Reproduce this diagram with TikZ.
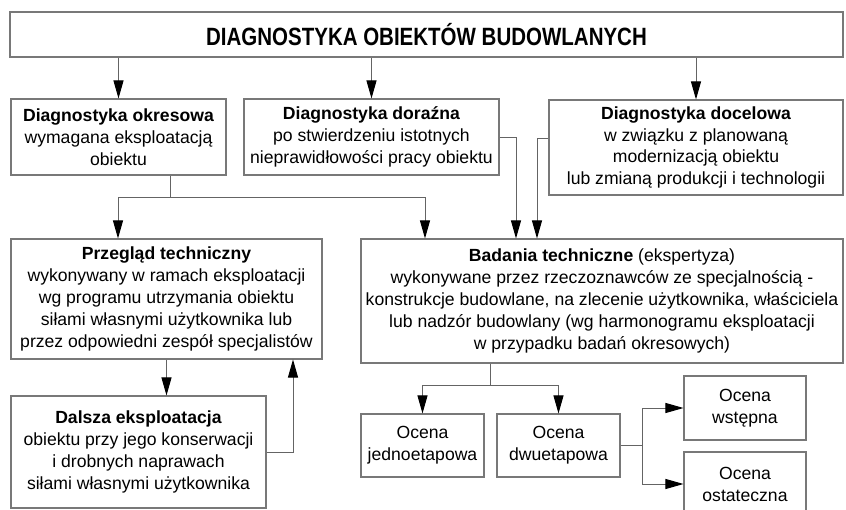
\documentclass[tikz,border=0pt]{standalone}
\usepackage{fontspec}
\usepackage{graphicx}
\setmainfont{Liberation Sans}
\usetikzlibrary{arrows.meta}
\definecolor{boxgray}{RGB}{120,120,120}
\definecolor{linegray}{RGB}{100,100,100}
\begin{document}
\begin{tikzpicture}[x=1pt,y=-1pt,
  box/.style={draw=boxgray,line width=1.1pt,inner sep=0pt,align=center,
    font=\fontsize{17.6}{21.9}\selectfont},
  wire/.style={draw=linegray,line width=1pt},
  conn/.style={draw=linegray,line width=1pt,-{Triangle[length=18pt,width=10pt,black]}}]
\fill[white] (0,0) rectangle (846,509);
\useasboundingbox (0,0) rectangle (846,509);

\node[box,minimum width=833pt,minimum height=45pt] (top) at (426.5,34.5)
  {\scalebox{0.82}[1]{\fontsize{25}{30}\selectfont\bfseries DIAGNOSTYKA OBIEKTÓW BUDOWLANYCH}};

\node[box,minimum width=215pt,minimum height=76pt] (okr) at (118.5,137)
  {\textbf{Diagnostyka okresowa}\\wymagana eksploatacją\\obiektu};
\node[box,minimum width=255pt,minimum height=76pt] (dor) at (371.5,137)
  {\textbf{Diagnostyka doraźna}\\po stwierdzeniu istotnych\\nieprawidłowości pracy obiektu};
\node[box,minimum width=294pt,minimum height=95pt] (doc) at (696,147.5)
  {\textbf{Diagnostyka docelowa}\\w związku z planowaną\\modernizacją obiektu\\lub zmianą produkcji i technologii};

\node[box,minimum width=311pt,minimum height=120pt] (prz) at (166.5,299)
  {\textbf{Przegląd techniczny}\\wykonywany w ramach eksploatacji\\wg programu utrzymania obiektu\\siłami własnymi użytkownika lub\\przez odpowiedni zespół specjalistów};
\node[box,minimum width=482pt,minimum height=124pt] (bad) at (602,301)
  {\textbf{Badania techniczne} (ekspertyza)\\wykonywane przez rzeczoznawców ze specjalnością -\\konstrukcje budowlane, na zlecenie użytkownika, właściciela\\lub nadzór budowlany (wg harmonogramu eksploatacji\\w przypadku badań okresowych)};

\node[box,minimum width=255pt,minimum height=112pt] (dal) at (138.5,452)
  {\textbf{Dalsza eksploatacja}\\obiektu przy jego konserwacji\\i drobnych naprawach\\siłami własnymi użytkownika};

\node[box,minimum width=123pt,minimum height=63pt] (jed) at (422.5,445.5) {Ocena\\jednoetapowa};
\node[box,minimum width=123pt,minimum height=63pt] (dwu) at (558.5,445.5) {Ocena\\dwuetapowa};
\node[box,minimum width=122pt,minimum height=64pt] (wst) at (745,408) {Ocena\\wstępna};
\node[box,minimum width=122pt,minimum height=64pt] (ost) at (745,484) {Ocena\\ostateczna};

% connectors
\draw[conn] (top.south -| okr.north) -- (okr.north);
\draw[conn] (top.south -| dor.north) -- (dor.north);
\draw[conn] (top.south -| doc.north) -- (doc.north);

\coordinate (j1) at (170,197);
\coordinate (a1) at (118,197);
\coordinate (a2) at (425,197);
\draw[wire] (okr.south -| j1) -- (j1);
\draw[wire] (a1) -- (a2);
\draw[conn] (a1) -- (prz.north -| a1);
\draw[conn] (a2) -- (bad.north -| a2);

\coordinate (d1) at (516,137);
\coordinate (d2) at (537,138);
\draw[conn] (dor.east |- d1) -- (d1) -- (bad.north -| d1);
\draw[conn] (doc.west |- d2) -- (d2) -- (bad.north -| d2);

\draw[conn] (prz.south) -- (prz.south |- dal.north);
\coordinate (e1) at (293,452);
\draw[conn] (dal.east |- e1) -- (e1) -- (prz.south -| e1);

\coordinate (b1) at (490,385);
\draw[wire] (bad.south -| b1) -- (b1);
\draw[conn] (b1) -| (jed.north);
\draw[conn] (b1) -| (dwu.north);

\coordinate (c1) at (642,445.5);
\draw[wire] (dwu.east) -- (c1);
\draw[conn] (c1) |- (wst.west);
\draw[conn] (c1) |- (ost.west);
\end{tikzpicture}
\end{document}
